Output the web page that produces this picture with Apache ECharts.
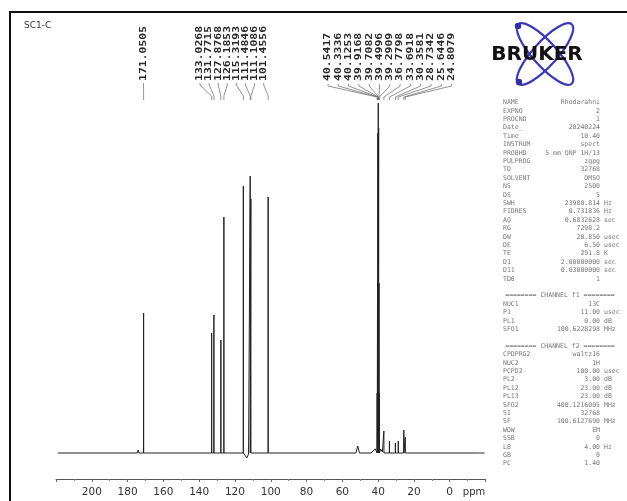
<!DOCTYPE html>
<html><head><meta charset="utf-8">
<script src="https://cdn.jsdelivr.net/npm/echarts@6/dist/echarts.min.js"></script>
<style>html,body{margin:0;padding:0;background:#fff}#c{width:627px;height:501px}</style>
</head><body><div id="c"></div>
<script>
// ---------- data ----------
const title = 'SC1-C';
const axisUnit = 'ppm';
// labelled peaks (ppm) and heights (arbitrary units above baseline)
const peakPpm = [171.0505, 133.0268, 131.7715, 127.8768, 126.1853, 115.3193, 111.4846, 111.1086, 101.4556,
  40.5417, 40.3336, 40.1253, 39.9168, 39.7082, 39.4996, 39.2909, 36.7798, 33.6918, 30.3581, 28.7342, 25.6446, 24.8079];
const peakHeight = [140, 120, 138, 113, 236, 267, 277, 254, 256,
  60, 170, 320, 350, 325, 170, 60, 22, 12, 10, 12, 23, 16];
// small unlabelled features of the baseline
const smallPpm = [219.0, 174.6, 174.1, 173.6, 114.4, 113.4, 112.4, 52.4, 51.4, 50.4, 44.0, 41.6, 38.6, 37.6, -16.0, -17.0, -18.0, -19.5];
const smallVal = [0, 0, 3, 0, -1, -5, -1, 0, 7, 0, 0, 4, 4, 1, 0, 2, 0, 0];
// peak label groups (text shown above the spectrum)
const labelsA = ['171.0505'];
const labelsB = ['133.0268', '131.7715', '127.8768', '126.1853', '115.3193', '111.4846', '111.1086', '101.4556'];
const labelsC = ['40.5417', '40.3336', '40.1253', '39.9168', '39.7082', '39.4996', '39.2909', '36.7798', '33.6918', '30.3581', '28.7342', '25.6446', '24.8079'];
// acquisition parameters
const paramNames = ['NAME', 'EXPNO', 'PROCNO', 'Date_', 'Time', 'INSTRUM', 'PROBHD', 'PULPROG', 'TD', 'SOLVENT', 'NS', 'DS', 'SWH', 'FIDRES', 'AQ', 'RG', 'DW', 'DE', 'TE', 'D1', 'D11', 'TD0',
  '', '======== CHANNEL f1 ========', 'NUC1', 'P1', 'PL1', 'SFO1',
  '', '======== CHANNEL f2 ========', 'CPDPRG2', 'NUC2', 'PCPD2', 'PL2', 'PL12', 'PL13', 'SFO2', 'SI', 'SF', 'WDW', 'SSB', 'LB', 'GB', 'PC'];
const paramValues = ['Rhodarahni', '2', '1', '20240224', '10.40', 'spect', '5 mm QNP 1H/13', 'zgpg', '32768', 'DMSO', '2500', '5', '23980.814', '0.731836', '0.6832628', '7298.2', '20.850', '6.50', '291.8', '2.00000000', '0.03000000', '1',
  '', '', '13C', '11.00', '0.00', '100.6228298',
  '', '', 'waltz16', '1H', '100.00', '3.00', '23.00', '23.00', '400.1216005', '32768', '100.6127690', 'EM', '0', '4.00', '0', '1.40'];
const paramUnits = ['', '', '', '', '', '', '', '', '', '', '', '', 'Hz', 'Hz', 'sec', '', 'usec', 'usec', 'K', 'sec', 'sec', '',
  '', '', '', 'usec', 'dB', 'MHz',
  '', '', '', '', 'usec', 'dB', 'dB', 'dB', 'MHz', '', 'MHz', '', '', 'Hz', '', ''];

// ---------- build spectrum line ----------
const pts = [];
peakPpm.forEach((p, i) => { pts.push([p + 0.05, 0], [p, peakHeight[i]], [p - 0.05, 0]); });
smallPpm.forEach((p, i) => pts.push([p, smallVal[i]]));
pts.sort((a, b) => b[0] - a[0]);

const chart = echarts.init(document.getElementById('c'), null, { renderer: 'canvas' });
chart.setOption({
  animation: false,
  backgroundColor: '#fff',
  grid: { left: 56, right: 141.5, top: 100, bottom: 22 },
  xAxis: {
    type: 'value', inverse: true, min: -20, max: 220, interval: 20,
    axisLine: { onZero: false, lineStyle: { color: '#555', width: 1 } },
    axisTick: { length: 3, lineStyle: { color: '#666' } },
    minorTick: { show: true, splitNumber: 2, length: 2, lineStyle: { color: '#888' } },
    axisLabel: { showMinLabel: false, showMaxLabel: false, fontSize: 10.5, color: '#333', margin: 8, fontFamily: 'DejaVu Sans' },
    splitLine: { show: false }
  },
  yAxis: { type: 'value', min: -26, max: 353, show: false },
  series: [{
    type: 'line', data: pts, showSymbol: false, symbol: 'none', silent: true,
    lineStyle: { color: '#222', width: 1 }
  }]
});

// ---------- annotations ----------
const g = [];
// frame
g.push({ type: 'rect', shape: { x: 10, y: 12, width: 700, height: 600 }, style: { fill: 'none', stroke: '#111', lineWidth: 2 }, z: 1 });
// title
g.push({ type: 'text', x: 24, y: 26, style: { text: title, font: '9px "DejaVu Sans"', fill: '#333', align: 'left', verticalAlign: 'middle' }, z: 5 });
// ppm unit
g.push({ type: 'text', x: 474, y: 492, style: { text: axisUnit, font: '10px "DejaVu Sans"', fill: '#333', align: 'center', verticalAlign: 'middle' }, z: 5 });

const px = v => chart.convertToPixel({ xAxisIndex: 0 }, v);
const labFont = 'bold 9px "DejaVu Sans Mono"';
function addGroup(labels, startX, step, leaderTop, leaderBottom, convergeY) {
  labels.forEach((t, i) => {
    const lx = startX + i * step;
    const pk = px(parseFloat(t));
    g.push({ type: 'text', x: lx, y: 81, rotation: Math.PI / 2, scaleX: 1.27, scaleY: 1,
      style: { text: t, font: labFont, fill: '#2a2a2a', align: 'left', verticalAlign: 'middle' }, z: 5 });
    g.push({ type: 'polyline', shape: { points: [[lx, leaderTop], [lx, leaderTop + 2], [pk, convergeY], [pk, leaderBottom]] },
      style: { stroke: '#777', lineWidth: 0.8, fill: 'none' }, z: 4 });
  });
}
addGroup(labelsA, 143.5, 0, 83, 100, 90);
addGroup(labelsB, 200, 9.1, 83, 100, 96);
addGroup(labelsC, 328, 10.3, 84, 100, 97);

// Bruker logo
[48, -48].forEach(deg => {
  g.push({ type: 'ellipse', x: 545, y: 54, rotation: deg * Math.PI / 180,
    shape: { cx: 0, cy: 0, rx: 40, ry: 12 }, style: { fill: 'none', stroke: '#3a3ab4', lineWidth: 2.2 }, z: 3 });
});
g.push({ type: 'circle', shape: { cx: 518, cy: 26, r: 3.2 }, style: { fill: '#2f2fa8' }, z: 3 });
g.push({ type: 'circle', shape: { cx: 519, cy: 82, r: 3.2 }, style: { fill: '#2f2fa8' }, z: 3 });
g.push({ type: 'text', x: 537, y: 55, style: { text: 'BRUKER', font: 'bold 20px "DejaVu Sans"', fill: '#111', align: 'center', verticalAlign: 'middle' }, z: 6 });

// parameter panel
const pFont = '6.5px "DejaVu Sans Mono"';
paramNames.forEach((n, i) => {
  const y = 102.5 + i * 8.4;
  if (n.startsWith('=')) {
    g.push({ type: 'text', x: 560, y, style: { text: n, font: pFont, fill: '#777', align: 'center', verticalAlign: 'middle' }, z: 5 });
    return;
  }
  if (!n) return;
  g.push({ type: 'text', x: 503, y, style: { text: n, font: pFont, fill: '#777', align: 'left', verticalAlign: 'middle' }, z: 5 });
  g.push({ type: 'text', x: 600, y, style: { text: paramValues[i], font: pFont, fill: '#777', align: 'right', verticalAlign: 'middle' }, z: 5 });
  if (paramUnits[i]) g.push({ type: 'text', x: 604, y, style: { text: paramUnits[i], font: pFont, fill: '#777', align: 'left', verticalAlign: 'middle' }, z: 5 });
});

chart.setOption({ graphic: { elements: g } });
</script></body></html>
